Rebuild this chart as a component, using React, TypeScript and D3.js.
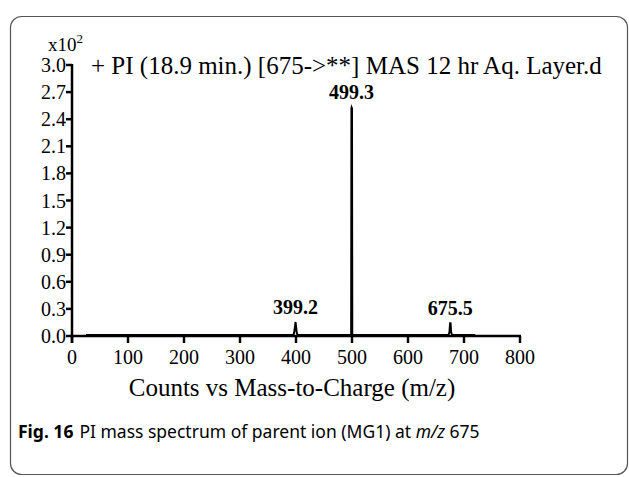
import React from "react";
import * as d3 from "d3";

const yTicks = [0, 0.3, 0.6, 0.9, 1.2, 1.5, 1.8, 2.1, 2.4, 2.7, 3.0];
const xTicks = [0, 100, 200, 300, 400, 500, 600, 700, 800];

const spectrumMz = [25, 60, 100, 150, 200, 250, 300, 350, 395.5, 397, 398.5, 399.2, 400, 401.5, 403, 450, 497, 498.5, 499, 499.3, 500, 500.5, 502, 550, 600, 650, 672, 674, 675.2, 676, 677, 679, 700, 720];
const spectrumCounts = [0.01, 0.012, 0.01, 0.012, 0.01, 0.012, 0.01, 0.012, 0.01, 0.05, 0.12, 0.155, 0.11, 0.03, 0.01, 0.012, 0.01, 0.02, 2.52, 2.53, 2.52, 0.02, 0.01, 0.012, 0.01, 0.012, 0.01, 0.04, 0.14, 0.14, 0.04, 0.01, 0.012, 0.01];

const peakMz = [399.2, 499.3, 675.5];
const peakCounts = [0.155, 2.53, 0.14];
const peakLabels = ["399.2", "499.3", "675.5"];

const title = "+ PI (18.9 min.) [675->**] MAS 12 hr Aq. Layer.d";
const xTitle = "Counts vs Mass-to-Charge (m/z)";

export default function App() {
  const W = 629, H = 477;
  const x = d3.scaleLinear().domain([0, 800]).range([72, 520]);
  const y = d3.scaleLinear().domain([0, 3]).range([336, 65]);
  const pts: [number, number][] = spectrumMz.map((m, i) => [m, spectrumCounts[i]]);
  const line = d3.line<[number, number]>().x(d => x(d[0])).y(d => y(d[1]));
  const serif = "'Liberation Serif', 'Times New Roman', serif";
  return (
    <svg width={W} height={H} style={{ position: "absolute", left: 0, top: 0, background: "#fff" }}>
      <rect x={0} y={0} width={W} height={H} fill="#fff" />
      <rect x={10.5} y={16.5} width={617} height={458} rx={11} ry={11} fill="none" stroke="#555" strokeWidth={1.2} />
      {/* y axis */}
      <line x1={x(0)} x2={x(0)} y1={y(3) - 1} y2={y(0) + 7} stroke="#000" strokeWidth={2.5} />
      {yTicks.map(t => (
        <g key={"y" + t}>
          <line x1={x(0) - 6} x2={x(0)} y1={y(t)} y2={y(t)} stroke="#000" strokeWidth={2.5} />
          <text x={x(0) - 6} y={y(t) + 7} textAnchor="end" fontFamily={serif} fontSize={20}>{t.toFixed(1)}</text>
        </g>
      ))}
      <text x={48} y={51} fontFamily={serif} fontSize={19}>x10<tspan dy={-8} fontSize={13}>2</tspan></text>
      {/* x axis */}
      <line x1={x(0) - 1} x2={x(800) + 1} y1={y(0)} y2={y(0)} stroke="#000" strokeWidth={2.5} />
      {xTicks.map(t => (
        <g key={"x" + t}>
          <line x1={x(t)} x2={x(t)} y1={y(0)} y2={y(0) + 7} stroke="#000" strokeWidth={2.5} />
          <text x={x(t)} y={y(0) + 28} textAnchor="middle" fontFamily={serif} fontSize={20}>{t}</text>
        </g>
      ))}
      <path d={line(pts) || ""} fill="none" stroke="#000" strokeWidth={2} strokeLinejoin="miter" />
      {peakMz.map((m, i) => (
        <text key={"p" + i} x={x(m)} y={y(peakCounts[i]) - 8} textAnchor="middle" fontFamily={serif} fontWeight="bold" fontSize={20}>{peakLabels[i]}</text>
      ))}
      <text x={91} y={74} fontFamily={serif} fontSize={25}>{title}</text>
      <text x={x(400) - 4} y={396} textAnchor="middle" fontFamily={serif} fontSize={25}>{xTitle}</text>
      <text x={18} y={438} fontFamily="'Noto Sans', sans-serif" fontSize={17.5}>
        <tspan fontWeight="bold">Fig. 16</tspan>
        <tspan dx={6}>PI mass spectrum of parent ion (MG1) at </tspan>
        <tspan fontStyle="italic">m/z</tspan>
        <tspan> 675</tspan>
      </text>
    </svg>
  );
}
